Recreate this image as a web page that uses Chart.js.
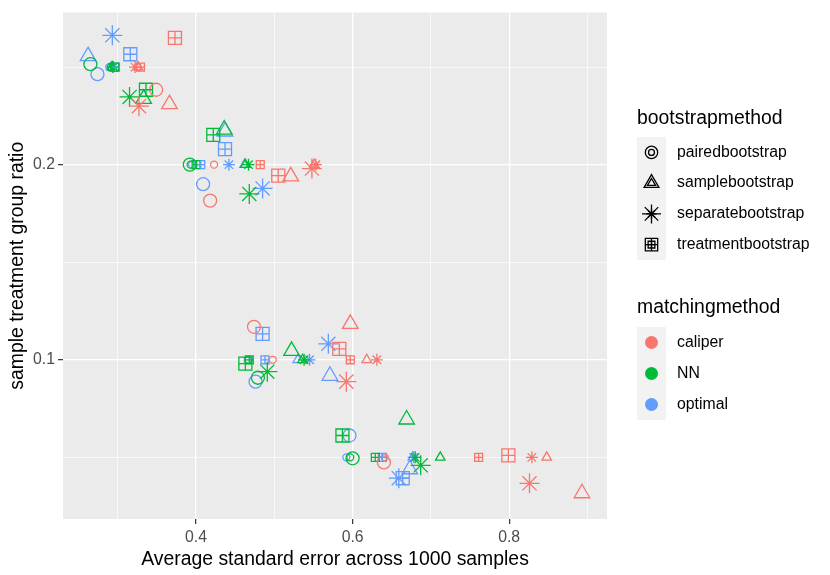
<!DOCTYPE html>
<html>
<head>
<meta charset="utf-8">
<script src="https://cdn.jsdelivr.net/npm/chart.js@4/dist/chart.umd.min.js"></script>
<style>
  html, body { margin: 0; background: #fff; }
</style>
</head>
<body>
<canvas id="grafica" width="830" height="575"></canvas>
<script>
// Categorías
const metodosBootstrap = ['pairedbootstrap', 'samplebootstrap', 'separatebootstrap', 'treatmentbootstrap'];
const formas = ['circle', 'triangle', 'star', 'rect'];
const metodosMatching = ['caliper', 'NN', 'optimal'];
const colores = ['#F8766D', '#00BA38', '#619CFF'];
const nivelesRatio = [0.25, 0.2, 0.1, 0.05];

// Filas: paired, sample, separate, treatment. Columnas: niveles 0.25, 0.2, 0.1, 0.05
const caliperSE = [
    [0.349, 0.418, 0.474, 0.640],
    [0.366, 0.521, 0.597, 0.893],
    [0.327, 0.548, 0.592, 0.826],
    [0.373, 0.505, 0.583, 0.799]
];
const caliperRatio = [
    [0.2384, 0.1816, 0.1169, 0.0474],
    [0.2310, 0.1940, 0.1184, 0.0316],
    [0.2300, 0.1980, 0.0888, 0.0367],
    [0.2650, 0.1944, 0.1056, 0.0510]
];
const caliperSENominal = [
    [0.325, 0.423, 0.498, 0.641],
    [0.326, 0.551, 0.618, 0.848],
    [0.322, 0.553, 0.631, 0.829],
    [0.329, 0.482, 0.597, 0.761]
];

const nnSE = [
    [0.265, 0.392, 0.479, 0.600],
    [0.333, 0.436, 0.522, 0.669],
    [0.315, 0.468, 0.491, 0.687],
    [0.336, 0.422, 0.463, 0.587]
];
const nnRatio = [
    [0.2515, 0.2000, 0.0908, 0.0495],
    [0.2337, 0.2180, 0.1046, 0.0694],
    [0.2347, 0.1850, 0.0939, 0.0459],
    [0.2384, 0.2153, 0.0980, 0.0612]
];
const nnSENominal = [
    [0.291, 0.393, 0.467, 0.597],
    [0.293, 0.463, 0.536, 0.712],
    [0.294, 0.467, 0.538, 0.680],
    [0.296, 0.400, 0.468, 0.629]
];

const optimalSE = [
    [0.274, 0.409, 0.476, 0.596],
    [0.262, 0.437, 0.571, 0.673],
    [0.293, 0.485, 0.569, 0.659],
    [0.316, 0.437, 0.485, 0.664]
];
const optimalRatio = [
    [0.2464, 0.1900, 0.0888, 0.0612],
    [0.2556, 0.2170, 0.0918, 0.0439],
    [0.2663, 0.1878, 0.1082, 0.0393],
    [0.2566, 0.2080, 0.1133, 0.0393]
];
const optimalSENominal = [
    [0.289, 0.395, 0.466, 0.592],
    [0.292, 0.462, 0.530, 0.677],
    [0.294, 0.442, 0.545, 0.678],
    [0.297, 0.406, 0.488, 0.638]
];

// Ticks
const xMayores = [0.4, 0.6, 0.8];
const xMenores = [0.3, 0.5, 0.7, 0.9];
const yMayores = [0.1, 0.2];
const yMenores = [0.05, 0.15, 0.25];

const FUENTE = '"Liberation Sans", Arial, Helvetica, sans-serif';
const TAM_TITULO = 19.4;
const TAM_TEXTO = 15.8;
const radioGrande = { circle: 6.5, triangle: 9, star: 10, rect: 9.2 };
const radioChico = { circle: 3.5, triangle: 5.5, star: 6, rect: 5.6 };

// Armar datasets
const todasSE = [caliperSE, nnSE, optimalSE];
const todasRatio = [caliperRatio, nnRatio, optimalRatio];
const todasNominal = [caliperSENominal, nnSENominal, optimalSENominal];

const datasets = [];
metodosMatching.forEach((metodo, m) => {
    formas.forEach((forma, b) => {
        datasets.push({
            label: metodo + ' ' + metodosBootstrap[b],
            data: todasSE[m][b].map((se, k) => ({ x: se, y: todasRatio[m][b][k] })),
            pointStyle: forma,
            pointRadius: radioGrande[forma],
            borderColor: colores[m],
            pointBackgroundColor: 'rgba(0,0,0,0)',
            pointBorderWidth: 1.3,
            cuadroCruz: forma === 'rect'
        });
        datasets.push({
            label: metodo + ' ' + metodosBootstrap[b] + ' nominal',
            data: todasNominal[m][b].map((se, k) => ({ x: se, y: nivelesRatio[k] })),
            pointStyle: forma,
            pointRadius: radioChico[forma],
            borderColor: colores[m],
            pointBackgroundColor: 'rgba(0,0,0,0)',
            pointBorderWidth: 1.3,
            cuadroCruz: forma === 'rect'
        });
    });
});

const esMayor = (lista, v) => lista.some(t => Math.abs(t - v) < 1e-9);

// Dibujo propio de formas para la leyenda
function dibujarForma(ctx, forma, x, y, r) {
    ctx.beginPath();
    if (forma === 'circle') {
        ctx.arc(x, y, r, 0, Math.PI * 2);
    } else if (forma === 'triangle') {
        for (let i = 0; i < 3; i++) {
            const a = -Math.PI / 2 + i * 2 * Math.PI / 3;
            const px = x + Math.cos(a) * r, py = y + Math.sin(a) * r;
            i === 0 ? ctx.moveTo(px, py) : ctx.lineTo(px, py);
        }
        ctx.closePath();
    } else if (forma === 'star') {
        for (let i = 0; i < 4; i++) {
            const a = i * Math.PI / 4;
            ctx.moveTo(x - Math.cos(a) * r, y - Math.sin(a) * r);
            ctx.lineTo(x + Math.cos(a) * r, y + Math.sin(a) * r);
        }
    } else {
        const s = r * Math.SQRT1_2;
        ctx.rect(x - s, y - s, 2 * s, 2 * s);
        ctx.moveTo(x - s, y); ctx.lineTo(x + s, y);
        ctx.moveTo(x, y - s); ctx.lineTo(x, y + s);
    }
    ctx.stroke();
}

// Fondo gris del panel
const fondoPanel = {
    id: 'fondoPanel',
    beforeDraw(chart) {
        const { ctx, chartArea } = chart;
        ctx.save();
        ctx.fillStyle = '#EBEBEB';
        ctx.fillRect(chartArea.left, chartArea.top, chartArea.right - chartArea.left, chartArea.bottom - chartArea.top);
        ctx.restore();
    }
};

// Cruz dentro de los cuadrados (treatmentbootstrap)
const cruzCuadro = {
    id: 'cruzCuadro',
    afterDatasetsDraw(chart) {
        const ctx = chart.ctx;
        chart.data.datasets.forEach((ds, i) => {
            if (!ds.cuadroCruz) return;
            const meta = chart.getDatasetMeta(i);
            ctx.save();
            ctx.strokeStyle = ds.borderColor;
            ctx.lineWidth = ds.pointBorderWidth;
            meta.data.forEach(p => {
                const s = ds.pointRadius * Math.SQRT1_2;
                ctx.beginPath();
                ctx.moveTo(p.x - s, p.y); ctx.lineTo(p.x + s, p.y);
                ctx.moveTo(p.x, p.y - s); ctx.lineTo(p.x, p.y + s);
                ctx.stroke();
            });
            ctx.restore();
        });
    }
};

// Leyenda estilo ggplot a la derecha
const leyenda = {
    id: 'leyenda',
    afterDraw(chart) {
        const ctx = chart.ctx;
        const x0 = 637, anchoCaja = 29, altoFila = 30.75;
        ctx.save();
        ctx.textBaseline = 'middle';
        ctx.textAlign = 'left';

        // bootstrapmethod
        ctx.fillStyle = '#000';
        ctx.font = TAM_TITULO + 'px ' + FUENTE;
        ctx.fillText('bootstrapmethod', x0, 119);
        let top = 137;
        ctx.fillStyle = '#F2F2F2';
        ctx.fillRect(x0, top, anchoCaja, altoFila * metodosBootstrap.length);
        metodosBootstrap.forEach((nombre, i) => {
            const cy = top + altoFila * (i + 0.5);
            const cx = x0 + anchoCaja / 2;
            ctx.strokeStyle = '#000';
            ctx.lineWidth = 1.3;
            dibujarForma(ctx, formas[i], cx, cy, radioGrande[formas[i]] * 0.95);
            dibujarForma(ctx, formas[i], cx, cy, radioChico[formas[i]] * 0.85);
            ctx.fillStyle = '#000';
            ctx.font = TAM_TEXTO + 'px ' + FUENTE;
            ctx.fillText(nombre, 677, cy);
        });

        // matchingmethod
        ctx.fillStyle = '#000';
        ctx.font = TAM_TITULO + 'px ' + FUENTE;
        ctx.fillText('matchingmethod', x0, 308);
        top = 327;
        ctx.fillStyle = '#F2F2F2';
        ctx.fillRect(x0, top, anchoCaja, 31 * metodosMatching.length);
        metodosMatching.forEach((nombre, i) => {
            const cy = top + 31 * (i + 0.5);
            ctx.fillStyle = colores[i];
            ctx.beginPath();
            ctx.arc(x0 + anchoCaja / 2, cy, 6.5, 0, Math.PI * 2);
            ctx.fill();
            ctx.fillStyle = '#000';
            ctx.font = TAM_TEXTO + 'px ' + FUENTE;
            ctx.fillText(nombre, 677, cy);
        });
        ctx.restore();
    }
};

function opcionesGrid(mayores) {
    return {
        color: '#FFFFFF',
        lineWidth: c => esMayor(mayores, c.tick.value) ? 1.3 : 0.65,
        tickColor: c => esMayor(mayores, c.tick.value) ? '#333333' : 'rgba(0,0,0,0)',
        tickWidth: 1.2,
        tickLength: 5,
        drawTicks: true
    };
}

const ctx = document.getElementById('grafica').getContext('2d');
const miGrafica = new Chart(ctx, {
    type: 'scatter',
    data: { datasets },
    options: {
        responsive: false,
        animation: false,
        layout: { padding: { top: 10, right: 223, left: 0, bottom: 0 } },
        plugins: { legend: { display: false }, tooltip: { enabled: false } },
        scales: {
            x: {
                min: 0.230,
                max: 0.925,
                afterBuildTicks: s => { s.ticks = [...xMayores, ...xMenores].sort((a, b) => a - b).map(v => ({ value: v })); },
                afterFit: s => { s.height = 56; },
                border: { display: false },
                grid: opcionesGrid(xMayores),
                ticks: {
                    autoSkip: false,
                    maxRotation: 0,
                    padding: 4,
                    color: '#4D4D4D',
                    font: { family: FUENTE, size: TAM_TEXTO },
                    callback: v => esMayor(xMayores, v) ? v.toFixed(1) : ''
                },
                title: {
                    display: true,
                    text: 'Average standard error across 1000 samples',
                    color: '#000',
                    font: { family: FUENTE, size: TAM_TITULO },
                    padding: { top: 0, bottom: 4 }
                }
            },
            y: {
                min: 0.0184,
                max: 0.278,
                afterBuildTicks: s => { s.ticks = [...yMayores, ...yMenores].sort((a, b) => a - b).map(v => ({ value: v })); },
                afterFit: s => { s.width = 63; },
                border: { display: false },
                grid: opcionesGrid(yMayores),
                ticks: {
                    autoSkip: false,
                    padding: 3,
                    color: '#4D4D4D',
                    font: { family: FUENTE, size: TAM_TEXTO },
                    callback: v => esMayor(yMayores, v) ? v.toFixed(1) : ''
                },
                title: {
                    display: true,
                    text: 'sample treatment group ratio',
                    color: '#000',
                    font: { family: FUENTE, size: TAM_TITULO },
                    padding: { top: 6, bottom: 0 }
                }
            }
        }
    },
    plugins: [fondoPanel, cruzCuadro, leyenda]
});
</script>
</body>
</html>
